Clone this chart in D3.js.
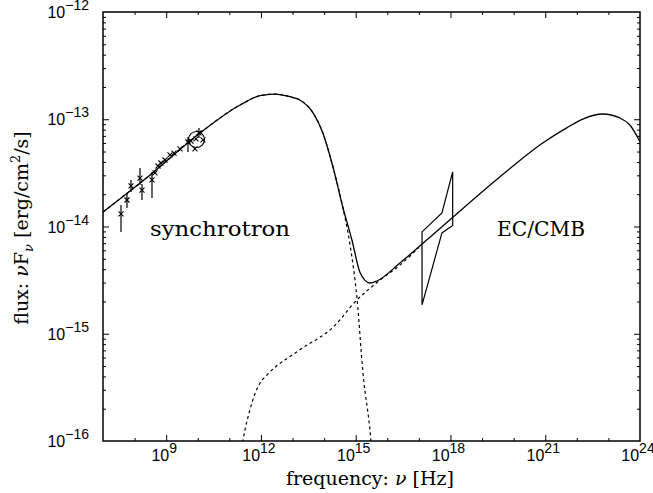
<!DOCTYPE html>
<html>
<head>
<meta charset="utf-8">
<script src="https://cdn.jsdelivr.net/npm/d3@7"></script>
<style>
body{margin:0;background:#fff}
text{fill:#000}
.tick-lab{font-family:"Liberation Sans",Arial,sans-serif;font-size:16px}
.ttl{font-family:"DejaVu Serif",serif;font-size:19px}
.lab{font-family:"DejaVu Serif",serif;font-size:21px}
</style>
</head>
<body>
<svg id="sed" width="653" height="493"></svg>
<script>
// values, as log10(nu [Hz]) and log10(nuFnu [erg/cm2/s])
var xTickExp=[9,12,15,18,21,24];
var yTickExp=[-16,-15,-14,-13,-12];

// total model (solid)
var modelLogNu=[7.0,8.49,10.07,11.34,11.97,12.44,12.92,13.23,13.65,13.96,14.28,14.59,14.88,15.13,15.29,15.45,15.67,16.40,17.66,19.56,20.92,21.68,22.19,22.82,23.36,23.68,24.0];
var modelLogF =[-13.865,-13.52,-13.128,-12.867,-12.78,-12.765,-12.79,-12.82,-12.94,-13.128,-13.445,-13.818,-14.126,-14.424,-14.50,-14.527,-14.508,-14.34,-14.02,-13.538,-13.221,-13.08,-12.998,-12.951,-12.988,-13.054,-13.21];

// synchrotron component (dashed)
var syncLogNu=[7.0,8.49,10.07,11.34,11.97,12.44,12.92,13.23,13.65,13.96,14.28,14.59,14.82,15.04,15.23,15.48,15.56];
var syncLogF =[-13.865,-13.52,-13.128,-12.867,-12.78,-12.765,-12.79,-12.82,-12.94,-13.128,-13.445,-13.818,-14.17,-14.667,-15.366,-15.99,-16.3];

// EC/CMB component (dashed)
var ecLogNu=[11.34,11.43,11.65,11.97,12.19,13.23,14.28,15.04,15.77,16.40,17.0];
var ecLogF =[-16.18,-16.0,-15.71,-15.46,-15.385,-15.15,-14.94,-14.685,-14.5,-14.36,-14.195];

// X-ray bow tie
var bowLogNu=[17.1,17.73,18.07];
var bowHiLogF=[-14.05,-13.874,-13.49];
var bowLoLogF=[-14.73,-14.06,-13.99];

// radio/optical points with error bars (null = no bar)
var ptLogNu=[7.57,7.759,7.886,8.171,8.234,8.551,8.646,8.741,8.835,8.962,9.12,9.247,9.437,9.69,9.785,9.943,10.038,10.165,9.911];
var ptLogF =[-13.883,-13.753,-13.622,-13.548,-13.66,-13.566,-13.501,-13.436,-13.408,-13.38,-13.333,-13.315,-13.277,-13.212,-13.203,-13.184,-13.128,-13.193,-13.277];
var ptErrHi=[-13.80,-13.688,-13.566,-13.455,-13.604,-13.492,null,null,null,null,null,null,null,-13.166,null,null,-13.082,null,null];
var ptErrLo=[-14.051,-13.828,-13.678,-13.613,-13.753,-13.734,null,null,null,null,null,null,null,-13.305,null,null,-13.175,null,null];
var circLogNu=9.959, circLogF=-13.189;

function sed(){
  var svg=d3.select("#sed");
  var pl=103,pr=640,pt=12,pb=441;
  var x=d3.scaleLog().domain([1e7,1e24]).range([pl,pr]);
  var y=d3.scaleLog().domain([1e-16,1e-12]).range([pb,pt]);
  var p10=function(v){return Math.pow(10,v);};
  var line=d3.line().x(function(d){return x(p10(d[0]));}).y(function(d){return y(p10(d[1]));});
  function pairs(a,b){return a.map(function(v,i){return [v,b[i]];});}

  svg.append("clipPath").attr("id","plotclip")
    .append("rect").attr("x",pl).attr("y",pt).attr("width",pr-pl).attr("height",pb-pt);

  // ticks (inward) on all four sides
  var xMajor=xTickExp.map(p10).filter(function(v){return v<1e24;});
  var xMinor=d3.range(8,24).map(p10).filter(function(v){return xMajor.indexOf(v)<0;});
  var yMajor=[-15,-14,-13].map(p10);
  var yMinor=[];
  [-16,-15,-14,-13].forEach(function(e){for(var k=2;k<10;k++)yMinor.push(k*Math.pow(10,e));});

  function axisG(ax,tr){
    var g=svg.append("g").attr("transform",tr).call(ax);
    g.select(".domain").remove();
    g.selectAll("line").attr("stroke","#000").attr("stroke-width",1);
    g.selectAll("text").remove();
  }
  axisG(d3.axisBottom(x).tickValues(xMajor).tickSize(-6),"translate(0,"+pb+")");
  axisG(d3.axisBottom(x).tickValues(xMinor).tickSize(-3),"translate(0,"+pb+")");
  axisG(d3.axisTop(x).tickValues(xMajor).tickSize(-6),"translate(0,"+pt+")");
  axisG(d3.axisTop(x).tickValues(xMinor).tickSize(-3),"translate(0,"+pt+")");
  axisG(d3.axisLeft(y).tickValues(yMajor).tickSize(-6),"translate("+pl+",0)");
  axisG(d3.axisLeft(y).tickValues(yMinor).tickSize(-3),"translate("+pl+",0)");
  axisG(d3.axisRight(y).tickValues(yMajor).tickSize(-6),"translate("+pr+",0)");
  axisG(d3.axisRight(y).tickValues(yMinor).tickSize(-3),"translate("+pr+",0)");

  svg.append("rect").attr("x",pl).attr("y",pt).attr("width",pr-pl).attr("height",pb-pt)
    .attr("fill","none").attr("stroke","#000").attr("stroke-width",1.5);

  // tick labels with superscripts
  xTickExp.forEach(function(e){
    var t=svg.append("text").attr("class","tick-lab").attr("x",x(p10(e))-2).attr("y",pb+20)
      .attr("text-anchor","middle");
    t.append("tspan").text("10");
    t.append("tspan").attr("dy",-8).attr("font-size",14).text(e);
  });
  yTickExp.forEach(function(e){
    var t=svg.append("text").attr("class","tick-lab").attr("x",pl-14).attr("y",y(p10(e))+6)
      .attr("text-anchor","end");
    t.append("tspan").text("10");
    t.append("tspan").attr("dy",-8).attr("font-size",14).text("\u2212"+Math.abs(e));
  });

  // axis titles
  var xt=svg.append("text").attr("class","ttl").attr("x",370).attr("y",485).attr("text-anchor","middle");
  xt.append("tspan").text("frequency: ");
  xt.append("tspan").attr("font-style","italic").text("\u03bd");
  xt.append("tspan").text(" [Hz]");
  var yt=svg.append("text").attr("class","ttl").attr("transform","translate(28,228) rotate(-90)").attr("text-anchor","middle");
  yt.append("tspan").text("flux: ");
  yt.append("tspan").attr("font-style","italic").text("\u03bd");
  yt.append("tspan").text("F");
  yt.append("tspan").attr("dy",5).attr("font-size",13).attr("font-style","italic").text("\u03bd");
  yt.append("tspan").attr("dy",-5).text(" [erg/cm");
  yt.append("tspan").attr("dy",-8).attr("font-size",13).text("2");
  yt.append("tspan").attr("dy",8).text("/s]");

  // curves
  var plot=svg.append("g").attr("clip-path","url(#plotclip)");
  var smooth=d3.line().x(function(d){return x(p10(d[0]));}).y(function(d){return y(p10(d[1]));}).curve(d3.curveMonotoneX);

  plot.append("path").datum(pairs(syncLogNu,syncLogF)).attr("d",smooth)
    .attr("fill","none").attr("stroke","#000").attr("stroke-width",1.2).attr("stroke-dasharray","3,3");
  plot.append("path").datum(pairs(ecLogNu,ecLogF)).attr("d",smooth)
    .attr("fill","none").attr("stroke","#000").attr("stroke-width",1.2).attr("stroke-dasharray","3,3");
  plot.append("path").datum(pairs(modelLogNu,modelLogF)).attr("d",smooth)
    .attr("fill","none").attr("stroke","#000").attr("stroke-width",1.3);

  // bow tie
  var bow=pairs(bowLogNu,bowHiLogF).concat(pairs(bowLogNu,bowLoLogF).reverse());
  plot.append("path").datum(bow)
    .attr("d",function(d){return line(d)+"Z";})
    .attr("fill","none").attr("stroke","#000").attr("stroke-width",1.2);

  // data points
  var pts=ptLogNu.map(function(v,i){return {nu:v,f:ptLogF[i],hi:ptErrHi[i],lo:ptErrLo[i]};});
  plot.selectAll(".err").data(pts.filter(function(d){return d.hi!==null;})).enter().append("line")
    .attr("x1",function(d){return x(p10(d.nu));}).attr("x2",function(d){return x(p10(d.nu));})
    .attr("y1",function(d){return y(p10(d.hi));}).attr("y2",function(d){return y(p10(d.lo));})
    .attr("stroke","#000").attr("stroke-width",1.2);
  plot.selectAll(".pt").data(pts).enter().append("path")
    .attr("transform",function(d){return "translate("+x(p10(d.nu))+","+y(p10(d.f))+")";})
    .attr("d","M-2.5,-2.5L2.5,2.5M-2.5,2.5L2.5,-2.5")
    .attr("stroke","#000").attr("stroke-width",1.1);
  plot.append("circle").attr("cx",x(p10(circLogNu))).attr("cy",y(p10(circLogF))).attr("r",8)
    .attr("fill","none").attr("stroke","#000").attr("stroke-width",1.1);

  // component labels
  svg.append("text").attr("class","lab").attr("x",150).attr("y",236)
    .attr("textLength",140).attr("lengthAdjust","spacingAndGlyphs").text("synchrotron");
  svg.append("text").attr("class","lab").attr("x",497).attr("y",236)
    .attr("textLength",88).attr("lengthAdjust","spacingAndGlyphs").text("EC/CMB");
}
sed();
</script>
</body>
</html>
